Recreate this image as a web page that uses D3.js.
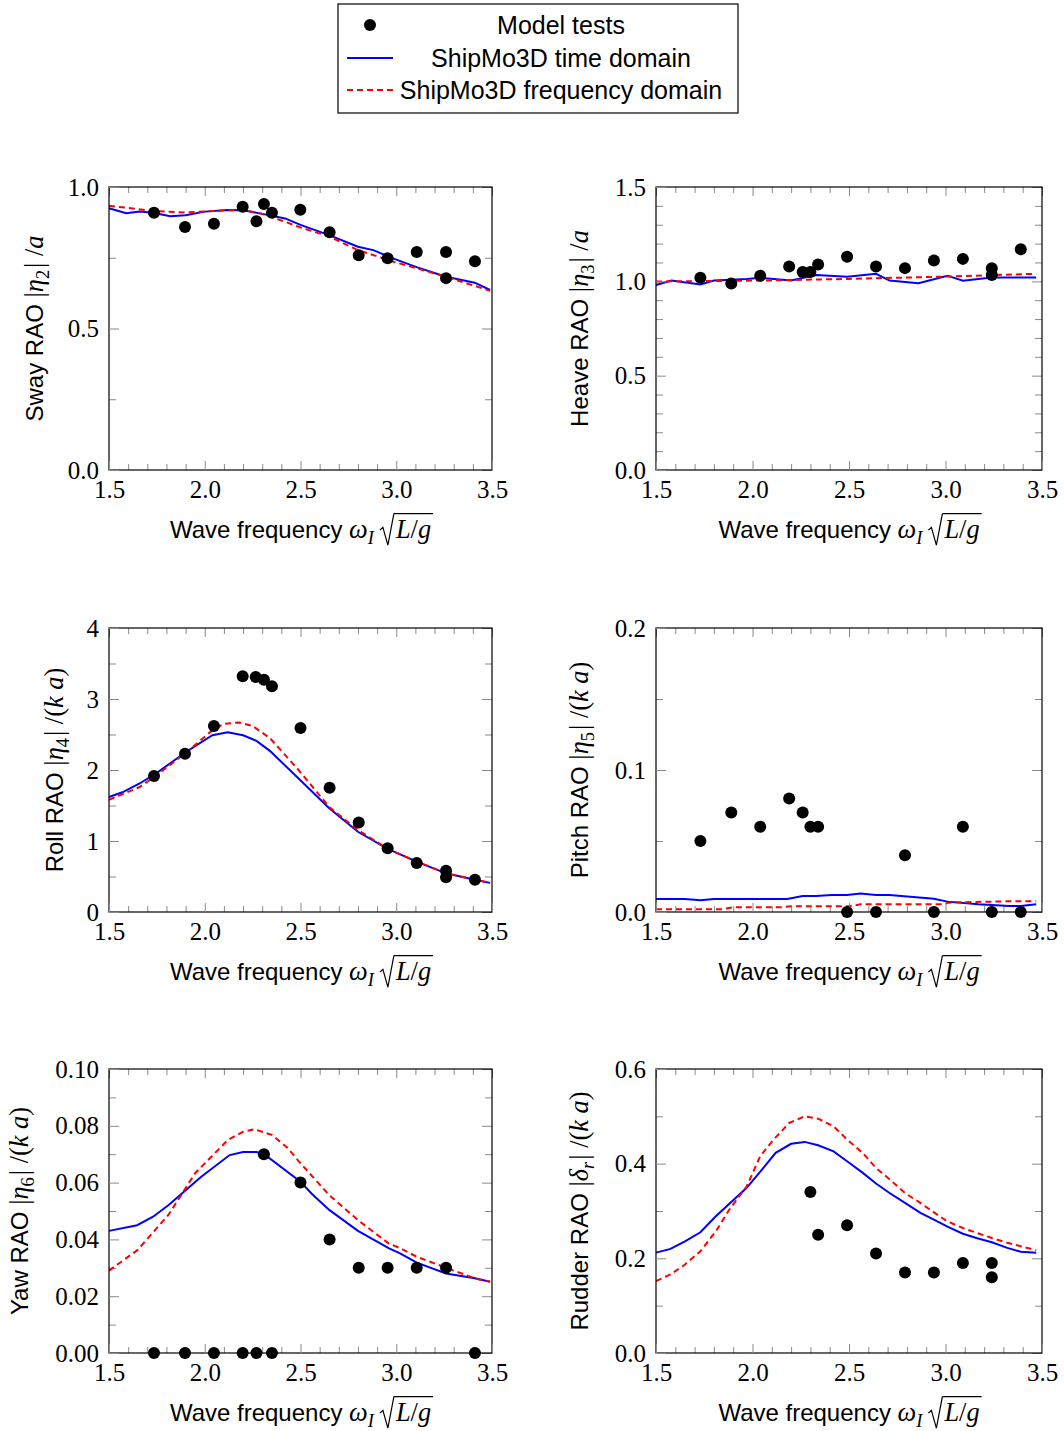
<!DOCTYPE html>
<html>
<head>
<meta charset="utf-8">
<script src="https://cdn.jsdelivr.net/npm/d3@7"></script>
<style>
  body { margin: 0; background: #fff; }
  svg { display: block; }
  text { white-space: pre; }
</style>
</head>
<body>
<script>
// ---- model tests (black dots) ----
const swayTestX = [1.735, 1.897, 2.048, 2.198, 2.27, 2.309, 2.351, 2.499, 2.652, 2.804, 2.955, 3.107, 3.26, 3.26, 3.411];
const swayTestY = [0.909, 0.859, 0.87, 0.93, 0.879, 0.94, 0.909, 0.92, 0.84, 0.759, 0.748, 0.77, 0.77, 0.678, 0.738];
const heaveTestX = [1.73, 1.89, 2.04, 2.19, 2.26, 2.30, 2.34, 2.49, 2.64, 2.79, 2.94, 3.09, 3.24, 3.24, 3.39];
const heaveTestY = [1.019, 0.988, 1.029, 1.078, 1.05, 1.05, 1.089, 1.13, 1.078, 1.07, 1.11, 1.119, 1.07, 1.034, 1.17];
const rollTestX = [1.735, 1.897, 2.048, 2.198, 2.266, 2.309, 2.351, 2.5, 2.652, 2.804, 2.955, 3.107, 3.26, 3.26, 3.411];
const rollTestY = [1.915, 2.23, 2.62, 3.32, 3.31, 3.27, 3.18, 2.59, 1.75, 1.26, 0.897, 0.69, 0.582, 0.488, 0.455];
const pitchTestX = [1.73, 1.89, 2.04, 2.19, 2.26, 2.30, 2.34, 2.49, 2.64, 2.79, 2.94, 3.09, 3.24, 3.39];
const pitchTestY = [0.05, 0.07, 0.06, 0.08, 0.07, 0.06, 0.06, 0, 0, 0.04, 0, 0.06, 0, 0];
const yawTestX = [1.735, 1.897, 2.048, 2.198, 2.27, 2.309, 2.351, 2.5, 2.652, 2.804, 2.955, 3.107, 3.26, 3.411];
const yawTestY = [0, 0, 0, 0, 0, 0.07, 0, 0.06, 0.04, 0.03, 0.03, 0.03, 0.03, 0];
const rudderTestX = [2.30, 2.34, 2.49, 2.64, 2.79, 2.94, 3.09, 3.24, 3.24];
const rudderTestY = [0.34, 0.25, 0.27, 0.21, 0.17, 0.17, 0.19, 0.19, 0.16];

// ---- ShipMo3D time domain (blue) ----
const swayTimeX = [1.5, 1.59, 1.66, 1.73, 1.82, 1.9, 2.0, 2.12, 2.2, 2.3, 2.42, 2.5, 2.65, 2.8, 2.88, 2.99, 3.11, 3.26, 3.41, 3.49];
const swayTimeY = [0.925, 0.907, 0.913, 0.909, 0.897, 0.90, 0.913, 0.919, 0.918, 0.905, 0.889, 0.866, 0.83, 0.789, 0.777, 0.746, 0.716, 0.683, 0.662, 0.636];
const heaveTimeX = [1.5, 1.58, 1.73, 1.8, 1.97, 2.04, 2.2, 2.33, 2.49, 2.64, 2.71, 2.86, 3.01, 3.09, 3.24, 3.47];
const heaveTimeY = [0.981, 1.004, 0.983, 1.004, 1.013, 1.019, 1.004, 1.034, 1.024, 1.04, 1.004, 0.99, 1.03, 1.003, 1.02, 1.02];
const rollTimeX = [1.5, 1.57, 1.66, 1.75, 1.9, 2.04, 2.12, 2.2, 2.27, 2.34, 2.49, 2.65, 2.8, 2.955, 3.107, 3.26, 3.41, 3.49];
const rollTimeY = [1.62, 1.686, 1.81, 1.96, 2.25, 2.49, 2.53, 2.49, 2.41, 2.27, 1.88, 1.46, 1.13, 0.89, 0.71, 0.545, 0.455, 0.41];
const pitchTimeX = [1.5, 1.65, 1.73, 1.8, 2.18, 2.26, 2.33, 2.41, 2.49, 2.56, 2.64, 2.71, 2.94, 3.01, 3.17, 3.33, 3.39, 3.47];
const pitchTimeY = [0.0092, 0.0092, 0.0082, 0.0092, 0.0092, 0.0113, 0.0113, 0.012, 0.012, 0.013, 0.012, 0.012, 0.0094, 0.0073, 0.0054, 0.0042, 0.0042, 0.0054];
const yawTimeX = [1.5, 1.647, 1.73, 1.81, 1.98, 2.13, 2.2, 2.27, 2.31, 2.5, 2.56, 2.65, 2.8, 2.96, 3.02, 3.107, 3.26, 3.41, 3.49];
const yawTimeY = [0.043, 0.045, 0.048, 0.052, 0.062, 0.0697, 0.0708, 0.0708, 0.07, 0.0603, 0.056, 0.0504, 0.043, 0.0369, 0.0351, 0.0318, 0.028, 0.0263, 0.0251];
const rudderTimeX = [1.5, 1.575, 1.65, 1.73, 1.81, 1.97, 2.05, 2.12, 2.2, 2.27, 2.34, 2.42, 2.49, 2.57, 2.64, 2.71, 2.79, 2.87, 2.94, 3.01, 3.09, 3.16, 3.24, 3.32, 3.39, 3.47];
const rudderTimeY = [0.212, 0.22, 0.236, 0.255, 0.289, 0.349, 0.388, 0.423, 0.442, 0.446, 0.439, 0.426, 0.405, 0.381, 0.358, 0.338, 0.317, 0.296, 0.282, 0.267, 0.252, 0.243, 0.234, 0.222, 0.214, 0.212];

// ---- ShipMo3D frequency domain (red dashed) ----
const swayFreqX = [1.5, 1.73, 1.9, 2.1, 2.2, 2.3, 2.42, 2.5, 2.65, 2.8, 2.99, 3.26, 3.49];
const swayFreqY = [0.934, 0.915, 0.91, 0.917, 0.919, 0.905, 0.877, 0.857, 0.825, 0.777, 0.735, 0.683, 0.633];
const heaveFreqX = [1.5, 2.1, 2.5, 3.0, 3.47];
const heaveFreqY = [0.999, 1.005, 1.013, 1.025, 1.04];
const rollFreqX = [1.5, 1.66, 1.75, 1.9, 2.04, 2.1, 2.18, 2.25, 2.34, 2.49, 2.65, 2.8, 2.955, 3.107, 3.26, 3.41, 3.49];
const rollFreqY = [1.58, 1.76, 1.93, 2.24, 2.56, 2.65, 2.67, 2.62, 2.45, 2.0, 1.48, 1.155, 0.89, 0.71, 0.545, 0.455, 0.41];
const pitchFreqX = [1.5, 1.84, 1.9, 2.15, 2.2, 2.5, 2.56, 2.98, 3.02, 3.3, 3.47];
const pitchFreqY = [0.0019, 0.0019, 0.0033, 0.0033, 0.004, 0.004, 0.0054, 0.0054, 0.0066, 0.0075, 0.0075];
const yawFreqX = [1.5, 1.65, 1.81, 1.95, 2.12, 2.2, 2.26, 2.35, 2.43, 2.5, 2.65, 2.8, 2.96, 3.02, 3.107, 3.26, 3.41, 3.49];
const yawFreqY = [0.029, 0.0363, 0.0486, 0.0633, 0.075, 0.0779, 0.0788, 0.0768, 0.0724, 0.0668, 0.0556, 0.0468, 0.0386, 0.0369, 0.0339, 0.03, 0.0263, 0.0251];
const rudderFreqX = [1.5, 1.575, 1.65, 1.73, 1.81, 1.88, 1.97, 2.04, 2.11, 2.19, 2.27, 2.34, 2.42, 2.49, 2.57, 2.64, 2.71, 2.79, 2.87, 2.94, 3.01, 3.09, 3.16, 3.24, 3.32, 3.47];
const rudderFreqY = [0.152, 0.166, 0.187, 0.215, 0.257, 0.303, 0.352, 0.416, 0.451, 0.486, 0.5, 0.495, 0.479, 0.451, 0.423, 0.391, 0.367, 0.338, 0.317, 0.297, 0.278, 0.264, 0.254, 0.243, 0.233, 0.217];

// axis ranges / tick labels
const xDomain = [1.5, 3.5];
const xTickLabels = ['1.5', '2.0', '2.5', '3.0', '3.5'];
const legendLabels = ['Model tests', 'ShipMo3D time domain', 'ShipMo3D frequency domain'];

const SANS = '"Liberation Sans", Arial, Helvetica, sans-serif';
const SERIF = '"Liberation Serif", "Times New Roman", serif';
const TICK = '#8a8a8a';

const svg = d3.select('body').append('svg')
    .attr('width', 1064)
    .attr('height', 1431);

const cols = [{ x0: 109, x1: 492 }, { x0: 656, x1: 1042 }];
const rows = [{ y0: 187, y1: 470 }, { y0: 628, y1: 912 }, { y0: 1069, y1: 1353 }];

const panels = [
    { col: 0, row: 0, ymax: 1.0, major: 0.5, minor: 0.25, fmt: '.1f', labelX: 35,
      tx: swayTestX, ty: swayTestY, ax: swayTimeX, ay: swayTimeY, bx: swayFreqX, by: swayFreqY,
      ylab: [{ t: 'Sway RAO ', sans: true }, { t: '|' }, { t: 'η', it: true }, { t: '2', sub: true }, { t: '| /' }, { t: 'a', it: true }] },
    { col: 1, row: 0, ymax: 1.5, major: 0.5, minor: 0.1, fmt: '.1f', labelX: 580,
      tx: heaveTestX, ty: heaveTestY, ax: heaveTimeX, ay: heaveTimeY, bx: heaveFreqX, by: heaveFreqY,
      ylab: [{ t: 'Heave RAO ', sans: true }, { t: '|' }, { t: 'η', it: true }, { t: '3', sub: true }, { t: '| /' }, { t: 'a', it: true }] },
    { col: 0, row: 1, ymax: 4, major: 1, minor: 0.5, fmt: 'd', labelX: 55,
      tx: rollTestX, ty: rollTestY, ax: rollTimeX, ay: rollTimeY, bx: rollFreqX, by: rollFreqY,
      ylab: [{ t: 'Roll RAO ', sans: true }, { t: '|' }, { t: 'η', it: true }, { t: '4', sub: true }, { t: '| /(' }, { t: 'k a', it: true }, { t: ')' }] },
    { col: 1, row: 1, ymax: 0.2, major: 0.1, minor: 0.05, fmt: '.1f', labelX: 580,
      tx: pitchTestX, ty: pitchTestY, ax: pitchTimeX, ay: pitchTimeY, bx: pitchFreqX, by: pitchFreqY,
      ylab: [{ t: 'Pitch RAO ', sans: true }, { t: '|' }, { t: 'η', it: true }, { t: '5', sub: true }, { t: '| /(' }, { t: 'k a', it: true }, { t: ')' }] },
    { col: 0, row: 2, ymax: 0.1, major: 0.02, minor: 0.01, fmt: '.2f', labelX: 20,
      tx: yawTestX, ty: yawTestY, ax: yawTimeX, ay: yawTimeY, bx: yawFreqX, by: yawFreqY,
      ylab: [{ t: 'Yaw RAO ', sans: true }, { t: '|' }, { t: 'η', it: true }, { t: '6', sub: true }, { t: '| /(' }, { t: 'k a', it: true }, { t: ')' }] },
    { col: 1, row: 2, ymax: 0.6, major: 0.2, minor: 0.1, fmt: '.1f', labelX: 580,
      tx: rudderTestX, ty: rudderTestY, ax: rudderTimeX, ay: rudderTimeY, bx: rudderFreqX, by: rudderFreqY,
      ylab: [{ t: 'Rudder RAO ', sans: true }, { t: '|' }, { t: 'δ', it: true }, { t: 'r', sub: true, it: true }, { t: '| /(' }, { t: 'k a', it: true }, { t: ')' }] }
];

const xlab = [{ t: 'Wave frequency ', sans: true }, { t: 'ω', it: true }, { t: 'I', sub: true, it: true },
    { gap: 4 }, { rad: true }, { t: 'L', it: true }, { t: '/' }, { t: 'g', it: true }];

// lay out a row of text pieces (sans words + serif math), returns width
function mathText(g, pieces, size) {
    const ms = size * 1.1;  // math glyphs a bit larger, like the LaTeX original
    let x = 0;
    let overStart = null;
    pieces.forEach(function(p) {
        if (p.gap) { x += p.gap; return; }
        if (p.rad) {
            g.append('path')
                .attr('d', `M${x},${-ms * 0.3} L${x + 3},${-ms * 0.4} L${x + 8},${ms * 0.27} L${x + 14},${-ms * 0.92}`)
                .attr('fill', 'none').attr('stroke', '#000').attr('stroke-width', 1.2);
            overStart = x + 14;
            x += 16;
            return;
        }
        const fs = p.sans ? size : (p.sub ? ms * 0.7 : ms);
        const t = g.append('text')
            .attr('x', x)
            .attr('y', p.sub ? ms * 0.22 : 0)
            .attr('font-family', p.sans ? SANS : SERIF)
            .attr('font-style', p.it ? 'italic' : 'normal')
            .attr('font-size', fs)
            .attr('fill', '#000')
            .text(p.t);
        x += t.node().getComputedTextLength() + (p.sub ? 2 : 0);
    });
    if (overStart != null) {
        g.append('line')
            .attr('x1', overStart).attr('x2', x + 2)
            .attr('y1', -ms * 0.92).attr('y2', -ms * 0.92)
            .attr('stroke', '#000').attr('stroke-width', 1.2);
    }
    return x;
}

panels.forEach(function(p) {
    const c = cols[p.col], r = rows[p.row];
    const x = d3.scaleLinear().domain(xDomain).range([c.x0, c.x1]);
    const y = d3.scaleLinear().domain([0, p.ymax]).range([r.y1, r.y0]);
    const g = svg.append('g');

    const xMajor = xTickLabels.map(Number);
    const xMinor = d3.range(15, 36).map(v => v / 10).filter(v => !xMajor.some(m => Math.abs(m - v) < 1e-9));
    const nMaj = Math.round(p.ymax / p.major);
    const yMajor = d3.range(0, nMaj + 1).map(i => i * p.major);
    const yMinor = d3.range(0, Math.round(p.ymax / p.minor) + 1).map(i => i * p.minor)
        .filter(v => !yMajor.some(m => Math.abs(m - v) < 1e-9));

    function addAxis(axisFn, scale, vals, size, transform, labels, fmt) {
        const a = g.append('g').attr('transform', transform)
            .call(axisFn(scale).tickValues(vals).tickSize(-size).tickPadding(labels ? 10 : 0)
                .tickFormat(labels ? fmt : ''));
        a.select('.domain').remove();
        a.selectAll('line').attr('stroke', TICK).attr('stroke-width', 1);
        a.selectAll('text').attr('font-family', SERIF).attr('font-size', 25).attr('fill', '#000');
        return a;
    }
    const xf = v => d3.format('.1f')(v);
    const yf = d3.format(p.fmt);
    addAxis(d3.axisBottom, x, xMinor, 6, `translate(0,${r.y1})`, false);
    addAxis(d3.axisTop, x, xMinor, 6, `translate(0,${r.y0})`, false);
    addAxis(d3.axisTop, x, xMajor, 9, `translate(0,${r.y0})`, false);
    addAxis(d3.axisLeft, y, yMinor, 7, `translate(${c.x0},0)`, false);
    addAxis(d3.axisRight, y, yMinor, 7, `translate(${c.x1},0)`, false);
    addAxis(d3.axisRight, y, yMajor, 10, `translate(${c.x1},0)`, false);

    const line = d3.line().x(d => x(d[0])).y(d => y(d[1]));
    g.append('path')
        .datum(d3.zip(p.ax, p.ay))
        .attr('d', line)
        .attr('fill', 'none').attr('stroke', '#0000ff').attr('stroke-width', 2);
    g.append('path')
        .datum(d3.zip(p.bx, p.by))
        .attr('d', line)
        .attr('fill', 'none').attr('stroke', '#ff0000').attr('stroke-width', 2)
        .attr('stroke-dasharray', '6,4');

    g.append('rect')
        .attr('x', c.x0).attr('y', r.y0)
        .attr('width', c.x1 - c.x0).attr('height', r.y1 - r.y0)
        .attr('fill', 'none').attr('stroke', '#000').attr('stroke-width', 1.2);

    // labelled axes drawn after the frame so labels sit on top
    addAxis(d3.axisBottom, x, xMajor, 9, `translate(0,${r.y1})`, true, xf);
    addAxis(d3.axisLeft, y, yMajor, 10, `translate(${c.x0},0)`, true, yf);

    g.append('g').selectAll('circle')
        .data(d3.zip(p.tx, p.ty))
        .enter()
        .append('circle')
            .attr('cx', d => x(d[0]))
            .attr('cy', d => y(d[1]))
            .attr('r', 6)
            .attr('fill', '#000');

    // x label
    const gx = svg.append('g');
    const wx = mathText(gx, xlab, 24);
    gx.attr('transform', `translate(${(c.x0 + c.x1) / 2 - wx / 2},${r.y1 + 68})`);

    // y label (rotated)
    const gy = svg.append('g');
    const wy = mathText(gy, p.ylab, 24);
    gy.attr('transform', `translate(${p.labelX + 8},${(r.y0 + r.y1) / 2}) rotate(-90) translate(${-wy / 2},0)`);
});

// legend
const lg = svg.append('g');
lg.append('rect')
    .attr('x', 338).attr('y', 4).attr('width', 400).attr('height', 109)
    .attr('fill', '#fff').attr('stroke', '#000').attr('stroke-width', 1.2);
const rowsY = [25, 58, 90];
lg.append('circle').attr('cx', 370).attr('cy', rowsY[0]).attr('r', 6).attr('fill', '#000');
lg.append('line').attr('x1', 347).attr('x2', 393).attr('y1', rowsY[1]).attr('y2', rowsY[1])
    .attr('stroke', '#0000ff').attr('stroke-width', 2);
lg.append('line').attr('x1', 347).attr('x2', 393).attr('y1', rowsY[2]).attr('y2', rowsY[2])
    .attr('stroke', '#ff0000').attr('stroke-width', 2).attr('stroke-dasharray', '6,4');
lg.selectAll('text.lab')
    .data(legendLabels)
    .enter()
    .append('text')
        .attr('class', 'lab')
        .attr('x', 561)
        .attr('y', (d, i) => rowsY[i] + 9)
        .attr('text-anchor', 'middle')
        .attr('font-family', SANS)
        .attr('font-size', 25)
        .attr('fill', '#000')
        .text(d => d);
</script>
</body>
</html>
